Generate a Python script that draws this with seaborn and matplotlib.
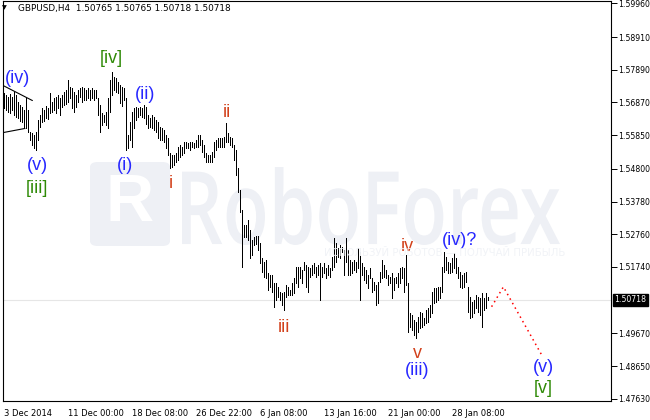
import matplotlib
matplotlib.use("Agg")
import matplotlib.pyplot as plt
import matplotlib.transforms as mtransforms
from matplotlib.patches import FancyBboxPatch, PathPatch
from matplotlib.textpath import TextPath
from matplotlib.font_manager import FontProperties
import pandas as pd
import seaborn as sns

# ---- data (GBPUSD H4 bars) ----
symbol = "GBPUSD,H4"
ohlc_header = ["1.50765", "1.50765", "1.50718", "1.50718"]
last_price = 1.50718

highs = [
    1.5715, 1.5709, 1.5703, 1.5712, 1.5703, 1.5719, 1.5709, 1.5687, 1.5678, 1.5672,
    1.5662, 1.5700, 1.5662, 1.5594, 1.5591, 1.5585, 1.5594, 1.5631, 1.5647, 1.5669,
    1.5662, 1.5675, 1.5669, 1.5715, 1.5690, 1.5700, 1.5703, 1.5709, 1.5700, 1.5709,
    1.5719, 1.5725, 1.5756, 1.5734, 1.5731, 1.5719, 1.5709, 1.5725, 1.5731, 1.5734,
    1.5731, 1.5725, 1.5731, 1.5725, 1.5731, 1.5725, 1.5725, 1.5700, 1.5678, 1.5653,
    1.5647, 1.5656, 1.5700, 1.5756, 1.5781, 1.5765, 1.5762, 1.5750, 1.5740, 1.5734,
    1.5731, 1.5700, 1.5585, 1.5625, 1.5656, 1.5669, 1.5672, 1.5669, 1.5672, 1.5669,
    1.5678, 1.5672, 1.5647, 1.5638, 1.5647, 1.5641, 1.5631, 1.5625, 1.5610, 1.5606,
    1.5600, 1.5585, 1.5575, 1.5529, 1.5522, 1.5522, 1.5529, 1.5547, 1.5553, 1.5547,
    1.5563, 1.5563, 1.5560, 1.5563, 1.5563, 1.5560, 1.5569, 1.5585, 1.5585, 1.5569,
    1.5553, 1.5529, 1.5522, 1.5522, 1.5532, 1.5563, 1.5569, 1.5575, 1.5575, 1.5575,
    1.5578, 1.5622, 1.5591, 1.5578, 1.5575, 1.5553, 1.5538, 1.5482, 1.5413, 1.5351,
    1.5304, 1.5304, 1.5320, 1.5289, 1.5258, 1.5267, 1.5270, 1.5270, 1.5248, 1.5202,
    1.5189, 1.5195, 1.5155, 1.5149, 1.5149, 1.5124, 1.5124, 1.5111, 1.5096, 1.5093,
    1.5096, 1.5118, 1.5111, 1.5102, 1.5124, 1.5139, 1.5174, 1.5174, 1.5174, 1.5164,
    1.5189, 1.5180, 1.5174, 1.5170, 1.5180, 1.5186, 1.5174, 1.5180, 1.5186, 1.5174,
    1.5186, 1.5170, 1.5180, 1.5170, 1.5205, 1.5264, 1.5248, 1.5233, 1.5242, 1.5236,
    1.5227, 1.5264, 1.5227, 1.5195, 1.5189, 1.5195, 1.5189, 1.5233, 1.5220, 1.5186,
    1.5174, 1.5164, 1.5149, 1.5170, 1.5139, 1.5127, 1.5118, 1.5127, 1.5158, 1.5195,
    1.5180, 1.5164, 1.5149, 1.5142, 1.5155, 1.5139, 1.5142, 1.5155, 1.5170, 1.5174,
    1.5170, 1.5211, 1.5124, 1.5030, 1.5024, 1.5009, 1.5002, 1.5018, 1.5033, 1.5030,
    1.5015, 1.5040, 1.5046, 1.5055, 1.5096, 1.5108, 1.5108, 1.5111, 1.5111, 1.5174,
    1.5220, 1.5205, 1.5189, 1.5186, 1.5202, 1.5217, 1.5202, 1.5174, 1.5158, 1.5149,
    1.5155, 1.5158, 1.5111, 1.5080, 1.5065, 1.5071, 1.5086, 1.5080, 1.5077, 1.5093,
    1.5077, 1.5093, 1.5080,
]
lows = [
    1.5669, 1.5662, 1.5656, 1.5653, 1.5662, 1.5647, 1.5641, 1.5638, 1.5628, 1.5625,
    1.5610, 1.5606, 1.5594, 1.5569, 1.5553, 1.5544, 1.5538, 1.5569, 1.5610, 1.5625,
    1.5628, 1.5638, 1.5634, 1.5653, 1.5656, 1.5662, 1.5653, 1.5669, 1.5647, 1.5672,
    1.5678, 1.5681, 1.5687, 1.5700, 1.5669, 1.5656, 1.5672, 1.5687, 1.5703, 1.5687,
    1.5694, 1.5694, 1.5700, 1.5694, 1.5700, 1.5694, 1.5700, 1.5647, 1.5594, 1.5616,
    1.5625, 1.5616, 1.5606, 1.5656, 1.5709, 1.5725, 1.5719, 1.5715, 1.5684, 1.5675,
    1.5694, 1.5538, 1.5544, 1.5569, 1.5547, 1.5606, 1.5631, 1.5641, 1.5647, 1.5641,
    1.5638, 1.5619, 1.5606, 1.5610, 1.5606, 1.5600, 1.5594, 1.5575, 1.5569, 1.5569,
    1.5563, 1.5544, 1.5522, 1.5482, 1.5485, 1.5491, 1.5500, 1.5507, 1.5516, 1.5522,
    1.5529, 1.5544, 1.5544, 1.5538, 1.5547, 1.5544, 1.5547, 1.5547, 1.5553, 1.5532,
    1.5516, 1.5500, 1.5500, 1.5500, 1.5500, 1.5516, 1.5538, 1.5547, 1.5547, 1.5547,
    1.5547, 1.5563, 1.5563, 1.5553, 1.5547, 1.5507, 1.5460, 1.5407, 1.5345, 1.5174,
    1.5267, 1.5267, 1.5258, 1.5202, 1.5211, 1.5242, 1.5245, 1.5227, 1.5186, 1.5158,
    1.5142, 1.5139, 1.5102, 1.5111, 1.5096, 1.5049, 1.5071, 1.5080, 1.5071, 1.5055,
    1.5040, 1.5080, 1.5086, 1.5086, 1.5086, 1.5093, 1.5124, 1.5111, 1.5139, 1.5124,
    1.5164, 1.5111, 1.5096, 1.5142, 1.5149, 1.5155, 1.5142, 1.5149, 1.5071, 1.5142,
    1.5155, 1.5139, 1.5149, 1.5142, 1.5164, 1.5174, 1.5189, 1.5205, 1.5202, 1.5220,
    1.5149, 1.5189, 1.5149, 1.5149, 1.5155, 1.5164, 1.5158, 1.5170, 1.5071, 1.5149,
    1.5133, 1.5124, 1.5108, 1.5139, 1.5096, 1.5102, 1.5055, 1.5061, 1.5127, 1.5139,
    1.5142, 1.5139, 1.5118, 1.5124, 1.5077, 1.5102, 1.5124, 1.5111, 1.5124, 1.5139,
    1.5096, 1.5118, 1.4971, 1.4987, 1.4977, 1.4962, 1.4952, 1.4971, 1.4984, 1.4987,
    1.4993, 1.4999, 1.5002, 1.5018, 1.5030, 1.5061, 1.5065, 1.5071, 1.5077, 1.5096,
    1.5158, 1.5164, 1.5155, 1.5155, 1.5158, 1.5170, 1.5155, 1.5139, 1.5111, 1.5108,
    1.5111, 1.5127, 1.5033, 1.5015, 1.5018, 1.5030, 1.5046, 1.5033, 1.5024, 1.4987,
    1.5040, 1.5046, 1.5071,
]
assert len(highs) == len(lows)

price_ticks = [1.59960, 1.58910, 1.57890, 1.56870, 1.55850, 1.54800,
               1.53780, 1.52760, 1.51740, 1.49670, 1.48650, 1.47630]
date_ticks = [-0.5, 31.5, 63.5, 95.5, 127.5, 159.5, 191.5, 223.5]
date_labels = ["3 Dec 2014", "11 Dec 00:00", "18 Dec 08:00", "26 Dec 22:00",
               "6 Jan 08:00", "13 Jan 16:00", "21 Jan 00:00", "28 Jan 08:00"]

# forecast path (red dotted) and the small wedge lines on the left
forecast_bar = [243.8, 249.7, 268.8]
forecast_price = [1.5050, 1.5112, 1.4900]
wedge_upper_bar = [-0.5, 14.2]
wedge_upper_price = [1.5740, 1.5693]
wedge_lower_bar = [-0.5, 10.5]
wedge_lower_price = [1.5593, 1.5606]

# wave labels: text, bar index, price, colour group
wave_text = ["(iv)", "(v)", "[iii]", "[iv]", "(i)", "(ii)", "i", "ii", "iii",
             "iv", "v", "(iii)", "(iv)?", "(v)", "[v]"]
wave_bar = [7, 16.5, 16.5, 53.5, 60.5, 70.5, 83.5, 111.5, 140,
            201.5, 206.5, 206.5, 228, 269.5, 269.5]
wave_price = [1.5762, 1.5491, 1.5420, 1.5824, 1.5491, 1.5712, 1.5435, 1.5656, 1.4984,
              1.5239, 1.4903, 1.4850, 1.5258, 1.4859, 1.4794]
wave_group = ["minor", "minor", "inter", "inter", "minor", "minor", "minute", "minute", "minute",
              "minute", "minute", "minor", "minor", "minor", "inter"]
group_colors = {"minor": "#2727ff", "inter": "#2f8a06", "minute": "#d2401a"}

bars = pd.DataFrame({"bar": range(len(highs)), "high": highs, "low": lows})

# ---- figure ----
sns.set_style("white")
plt.rcParams["font.family"] = ["DejaVu Sans"]

W, H = 650, 420
fig = plt.figure(figsize=(W / 100, H / 100), dpi=100)
ax = fig.add_axes([3 / W, 1 - 401 / H, 608 / W, 400.5 / H])
ax.set_xlim(-0.5, 303.5)
ax.set_ylim(1.4756, 1.6005)

# watermark
wm = "#eef0f5"
logo = FancyBboxPatch((90 / W, 1 - 246 / H), 80 / W, 84 / H,
                      boxstyle="round,pad=0,rounding_size=0.012",
                      transform=fig.transFigure, fc=wm, ec="none", zorder=0)
ax.add_patch(logo)
fig.text(130 / W, 1 - 204 / H, "R", fontsize=48, fontweight="bold", color="white",
         ha="center", va="center", family="Liberation Sans", zorder=1)
tp = TextPath((0, 0), "RoboForex", size=1,
              prop=FontProperties(family="Open Sans", weight="semibold"))
ext = tp.get_extents()
sx = (378 / W) / ext.width
sy = (78 / H) / ext.height
trans = (mtransforms.Affine2D().translate(-ext.x0, -ext.y0).scale(sx, sy)
         .translate(182 / W, 1 - 245 / H) + fig.transFigure)
ax.add_patch(PathPatch(tp, transform=trans, fc=wm, ec="none", zorder=0))
fig.text(565 / W, 1 - 253 / H, "ИСПОЛЬЗУЙ РОБОТОВ — ПОЛУЧАЙ ПРИБЫЛЬ", fontsize=7.3,
         color="#f1f3f7", ha="right", va="center", zorder=1)

# bid line
ax.axhline(last_price, color="#e6e6e6", lw=0.8, zorder=1)

# OHLC bars (1 px, crisp)
ax.vlines(bars["bar"], bars["low"], bars["high"], color="black", lw=0.55,
          antialiased=False, zorder=3)

# wedge lines
sns.lineplot(x=wedge_upper_bar, y=wedge_upper_price, ax=ax, color="black", lw=0.8, zorder=3)
sns.lineplot(x=wedge_lower_bar, y=wedge_lower_price, ax=ax, color="black", lw=0.8, zorder=3)

# forecast
sns.lineplot(x=forecast_bar, y=forecast_price, ax=ax, color="red", lw=1.1,
             linestyle=(0, (1, 2.4)), sort=False, zorder=3)

# wave labels
for t, b, p, g in zip(wave_text, wave_bar, wave_price, wave_group):
    ax.text(b, p, t, color=group_colors[g], fontsize=13, ha="center", va="center",
            family=["Liberation Sans", "DejaVu Sans"], zorder=4)

# axes styling
for s in ax.spines.values():
    s.set_color("black")
    s.set_linewidth(0.8)
ax.yaxis.tick_right()
ax.set_yticks(price_ticks)
ax.set_yticklabels([f"{v:.5f}" for v in price_ticks])
ax.set_xticks(date_ticks)
ax.set_xticklabels(date_labels)
ax.tick_params(axis="both", direction="out", length=4, width=0.7, colors="black")
ax.tick_params(axis="y", pad=1.2, labelsize=5.6)
ax.tick_params(axis="x", pad=1.5, labelsize=6)
offset = mtransforms.ScaledTranslation(1 / 100, 0, fig.dpi_scale_trans)
for lab in ax.get_xticklabels():
    lab.set_horizontalalignment("left")
    lab.set_transform(lab.get_transform() + offset)
ax.set_xlabel("")
ax.set_ylabel("")

# current price tag
ax.annotate(f"{last_price:.5f}", xy=(1.0, last_price),
            xycoords=("axes fraction", "data"), xytext=(2.5, 0),
            textcoords="offset points", ha="left", va="center", fontsize=5.6,
            color="white", annotation_clip=False,
            bbox=dict(boxstyle="square,pad=0.2", fc="black", ec="black"))

# header
fig.text(2 / W, 1 - 8 / H, "▼", fontsize=4.5, color="black", va="center", ha="left")
fig.text(18 / W, 1 - 8 / H, symbol + "  " + " ".join(ohlc_header), fontsize=6.4,
         color="black", va="center", ha="left")

fig.savefig("out.png", dpi=100)
plt.close(fig)
